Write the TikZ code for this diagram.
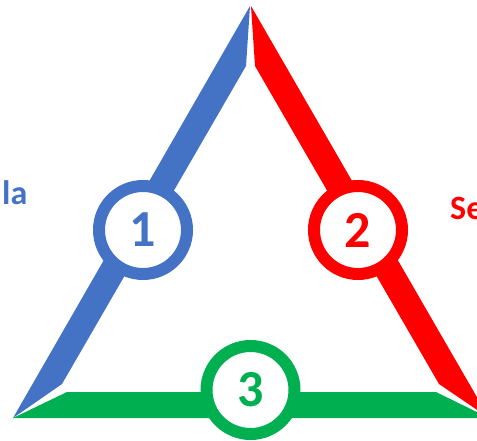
\documentclass[tikz,border=0pt]{standalone}
\usepackage{fontspec}
\setmainfont{Carlito}
\definecolor{cblue}{HTML}{4472C4}
\definecolor{cred}{HTML}{FF0000}
\definecolor{cgreen}{HTML}{00B050}
\tikzset{
  ring/.style={circle, fill=white, line width=12pt, minimum size=88pt, inner sep=0pt,
    font=\bfseries\fontsize{52}{52}\selectfont},
  sidelabel/.style={inner sep=0pt, anchor=base west, font=\bfseries\fontsize{34}{34}\selectfont}
}
\begin{document}
\begin{tikzpicture}[x=1pt,y=-1pt]
\useasboundingbox (0,0) rectangle (477,441);
% strips
\fill[cblue] (250,6) -- (13,418) -- (62,384) -- (246,66) -- cycle;
\fill[cred] (251,6) -- (489,418) -- (439,384) -- (255,66) -- cycle;
\fill[cgreen] (13,418) -- (67,392) -- (436,392) -- (489,418) -- cycle;
% rings
\node[ring, draw=cblue, text=cblue] (c1) at (143,230) {1};
\node[ring, draw=cred, text=cred] (c2) at (358,230) {2};
\node[ring, draw=cgreen, text=cgreen] (c3) at (250.5,390) {3};
% side texts
\node[sidelabel, text=cblue] (la) at (2,205) {la};
\node[sidelabel, text=cred] (se) at (450,219) {Se};
\end{tikzpicture}
\end{document}
